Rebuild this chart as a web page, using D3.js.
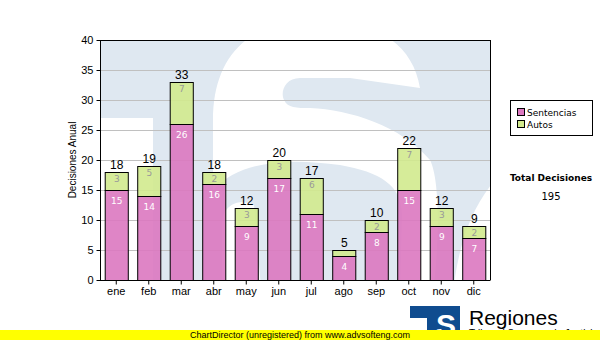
<!DOCTYPE html>
<html><head><meta charset="utf-8">
<script src="https://cdn.jsdelivr.net/npm/d3@7"></script>
<style>body{margin:0;background:#fff}svg{display:block}</style>
</head><body>
<script>
const categories = ["ene","feb","mar","abr","may","jun","jul","ago","sep","oct","nov","dic"];
const sentencias = [15,14,26,16,9,17,11,4,8,15,9,7];
const autos = [3,5,7,2,3,3,6,1,2,7,3,2];
const yTicks = [0,5,10,15,20,25,30,35,40];
const seriesNames = ["Sentencias","Autos"];
const seriesColors = ["#dc78c0","#d2ea8e"];

const W=600,H=340;
const svg=d3.select("body").append("svg").attr("width",W).attr("height",H);
const L=100,R=490,T=40,B=280;
const x=d3.scaleBand().domain(categories).range([L,R]).paddingInner(0.29).paddingOuter(0.145);
const y=d3.scaleLinear().domain([0,40]).range([B,T]);

// plot background with watermark
const defs=svg.append("defs");
defs.append("clipPath").attr("id","pc").append("rect").attr("x",L).attr("y",T).attr("width",R-L).attr("height",B-T);
const bg=svg.append("g").attr("clip-path","url(#pc)");
bg.append("rect").attr("x",L).attr("y",T).attr("width",R-L).attr("height",B-T).attr("fill","#dfe8f1");
bg.append("rect").attr("x",L).attr("y",118).attr("width",53).attr("height",170).attr("fill","#fff");
// big S shape
bg.append("path").attr("fill","#fff").attr("d",
 "M213,190 L213,120 C213,60 245,22 310,20 C370,18 412,40 420,88 L350,78 L300,78 C285,78 280,92 284,100 C288,108 296,108 310,108 C350,110 400,125 430,160 C440,180 440,240 432,300 L400,300 L402,215 C402,185 380,172 340,165 C290,158 240,160 213,190 Z");
bg.append("path").attr("fill","#fff").attr("d","M222,300 L222,225 C222,205 238,198 254,205 L262,300 Z");
bg.append("path").attr("fill","#fff").attr("d","M495,180 C470,210 458,245 452,300 L500,300 Z");

// gridlines
svg.append("g").selectAll("line").data(yTicks.filter(d=>d>0&&d<40)).join("line")
 .attr("x1",L).attr("x2",R).attr("y1",d=>y(d)+0.5).attr("y2",d=>y(d)+0.5)
 .attr("stroke","#c0c0c0").attr("stroke-width",1);

// bars
const g=svg.append("g");
categories.forEach((c,i)=>{
  const s=sentencias[i],a=autos[i];
  const bx=x(c),bw=x.bandwidth();
  g.append("rect").attr("x",bx+0.5).attr("y",y(s)+0.5).attr("width",bw).attr("height",y(0)-y(s))
   .attr("fill",seriesColors[0]).attr("fill-opacity",0.9).attr("stroke","#000").attr("stroke-width",1);
  g.append("rect").attr("x",bx+0.5).attr("y",y(s+a)+0.5).attr("width",bw).attr("height",y(s)-y(s+a))
   .attr("fill",seriesColors[1]).attr("fill-opacity",0.9).attr("stroke","#000").attr("stroke-width",1);
  const cx=bx+bw/2+0.5;
  g.append("text").attr("x",cx).attr("y",y(s)+14).attr("text-anchor","middle")
   .attr("font-family","DejaVu Sans, Verdana").attr("font-size",9).attr("fill","#fff").text(s);
  if(a>=2) g.append("text").attr("x",cx).attr("y",y(s+a)+10).attr("text-anchor","middle")
   .attr("font-family","DejaVu Sans, Verdana").attr("font-size",9).attr("fill","#999").text(a);
  g.append("text").attr("x",cx).attr("y",y(s+a)-3).attr("text-anchor","middle")
   .attr("font-family","Liberation Sans, Arial").attr("font-size",12).attr("fill","#000").text(s+a);
});

// borders
svg.append("line").attr("x1",L).attr("x2",R+0.5).attr("y1",T+0.5).attr("y2",T+0.5).attr("stroke","#000");
svg.append("line").attr("x1",R+0.5).attr("x2",R+0.5).attr("y1",T).attr("y2",B).attr("stroke","#000");

// axes
const ya=svg.append("g").attr("transform",`translate(${L+0.5},0)`)
 .call(d3.axisLeft(y).tickValues(yTicks).tickSize(4).tickSizeOuter(0).tickPadding(3));
const xa=svg.append("g").attr("transform",`translate(0,${B+0.5})`)
 .call(d3.axisBottom(x).tickSize(4).tickSizeOuter(0).tickPadding(3));
[ya,xa].forEach(a=>{a.select(".domain").attr("stroke","#000");
 a.selectAll("line").attr("stroke","#000");
 a.selectAll("text").attr("font-family","Liberation Sans, Arial").attr("font-size",11).attr("fill","#000");});
xa.select(".domain").attr("d",`M${L},0H${R+0.5}`);
ya.select(".domain").attr("d",`M0,${T}V${B+0.5}`);

svg.append("text").attr("transform","translate(76,160) rotate(-90)").attr("text-anchor","middle")
 .attr("font-family","Liberation Sans, Arial").attr("font-size",10).attr("fill","#000").text("Decisiones Anual");

// legend
svg.append("rect").attr("x",510.5).attr("y",100.5).attr("width",82).attr("height",35).attr("fill","#fff").attr("stroke","#000");
seriesNames.forEach((n,i)=>{
  svg.append("rect").attr("x",517.5).attr("y",108.5+i*12).attr("width",7).attr("height",7)
   .attr("fill",seriesColors[i]).attr("stroke","#000");
  svg.append("text").attr("x",527).attr("y",116+i*12).attr("font-family","DejaVu Sans, Verdana")
   .attr("font-size",9).attr("fill","#000").text(n);
});
const total=d3.sum(sentencias)+d3.sum(autos);
svg.append("text").attr("x",551).attr("y",181).attr("text-anchor","middle").attr("font-family","DejaVu Sans, Verdana")
 .attr("font-size",9).attr("font-weight","bold").attr("fill","#000").text("Total Decisiones");
svg.append("text").attr("x",551).attr("y",200).attr("text-anchor","middle").attr("font-family","DejaVu Sans, Verdana")
 .attr("font-size",10).attr("fill","#000").text(total);

// logo
const lg=svg.append("g");
lg.append("path").attr("fill","#0f4c8f").attr("d","M410,306 H460 V338 H427 V318 H410 Z");
lg.append("text").attr("x",446).attr("y",335).attr("text-anchor","middle").attr("font-family","Liberation Sans, Arial")
 .attr("font-weight","bold").attr("font-size",30).attr("fill","#fff").text("S");
lg.append("text").attr("x",469).attr("y",325).attr("font-family","Liberation Sans, Arial").attr("font-size",21).attr("fill","#000").text("Regiones");
lg.append("text").attr("x",469).attr("y",337).attr("font-family","Liberation Sans, Arial").attr("font-size",10).attr("fill","#000").text("Tribunal Supremo de Justicia");

// unregistered band
svg.append("rect").attr("x",0).attr("y",330).attr("width",W).attr("height",10).attr("fill","#ffff00");
svg.append("text").attr("x",190).attr("y",338).attr("font-family","Liberation Sans, Arial").attr("font-size",9).attr("fill","#000")
 .text("ChartDirector (unregistered) from www.advsofteng.com");
</script>
</body></html>
